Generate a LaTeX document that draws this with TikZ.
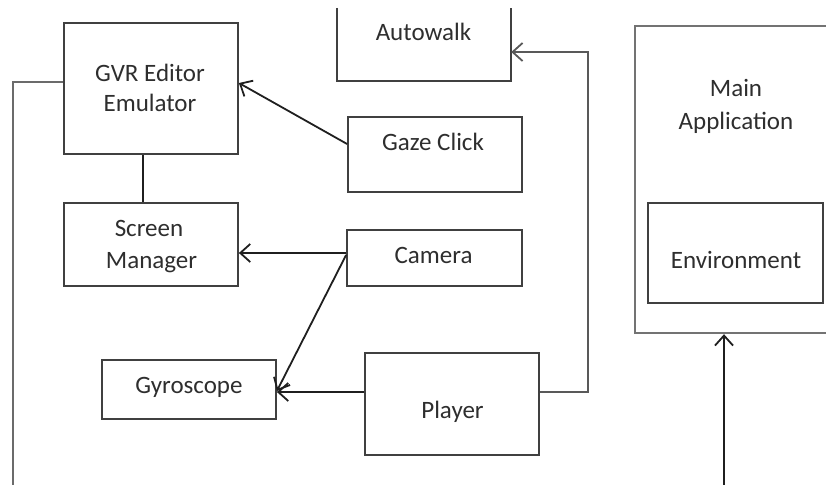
\documentclass[tikz,border=0pt]{standalone}
\usepackage{fontspec}
\setmainfont{Carlito}
\usetikzlibrary{arrows.meta}
\begin{document}
\begin{tikzpicture}[x=1pt,y=-1pt,
  box/.style={draw=black!75,line width=1.8pt,rectangle,inner sep=0pt},
  outerbox/.style={draw=black!55,line width=2.4pt,rectangle,inner sep=0pt},
  lbl/.style={anchor=base,inner sep=0pt,text=black!82,font=\fontsize{25}{30}\selectfont},
  link/.style={draw=black!88,line width=1.8pt},
  feed/.style={draw=black!58,line width=2.2pt},
  arr/.style={link,-{Straight Barb[length=10pt,width=18pt,line width=1.8pt]}}]
\useasboundingbox (0,0) rectangle (826,484);
\clip (0,0) rectangle (826,484);

% boxes
\node[box,minimum width=174pt,minimum height=131pt] (gvr) at (151,88.5) {};
\node[box,minimum width=174pt,minimum height=83pt] (scr) at (151,244.5) {};
\node[rectangle,inner sep=0pt,minimum width=174pt,minimum height=73pt] (aw) at (424,44.5) {};
\draw[box] (aw.north west) -- (aw.south west) -- (aw.south east) -- (aw.north east);
\node[box,minimum width=174pt,minimum height=75pt] (gaze) at (435,154.5) {};
\node[box,minimum width=175pt,minimum height=56pt] (cam) at (434.5,258) {};
\node[box,minimum width=174pt,minimum height=59pt] (gyro) at (189,389.5) {};
\node[box,minimum width=174pt,minimum height=102pt] (player) at (452,404) {};
\node[outerbox,minimum width=201pt,minimum height=307pt] (main) at (735.5,179.5) {};
\node[box,minimum width=175pt,minimum height=100pt] (env) at (735.5,253) {};

% labels
\node[lbl] at (150,82) {GVR Editor};
\node[lbl] at (150,112) {Emulator};
\node[lbl] at (149,236) {Screen};
\node[lbl] at (151.5,268) {Manager};
\node[lbl] at (423.5,41) {Autowalk};
\node[lbl] at (433,150) {Gaze Click};
\node[lbl] at (433.5,263) {Camera};
\node[lbl] at (189,393) {Gyroscope};
\node[lbl] at (452.5,418) {Player};
\node[lbl] at (736,97) {Main};
\node[lbl] at (736,129) {Application};
\node[lbl] at (736,268) {Environment};

% free ends at the lower edge
\coordinate (feedend) at (13,492);
\coordinate (appin) at (724,492);

% connectors
\draw[feed] ([yshift=6.5pt]gvr.west) -- ([yshift=6.5pt]gvr.west -| feedend) -- (feedend);
\draw[link] ([xshift=-8pt]gvr.south) -- ([xshift=-8pt]scr.north);
\draw[arr] ([yshift=10.5pt]gaze.west) -- ([yshift=5.5pt]gvr.east);
\draw[arr] ([yshift=5pt]cam.west) -- ([yshift=5pt]cam.west -| scr.east);
\draw[arr] ([yshift=3pt]cam.west) -- ([yshift=-1.5pt]gyro.east);
\draw[arr] ([yshift=12pt]player.west) -- ([yshift=12pt]player.west -| gyro.east);
\draw[draw=black!65,line width=2pt,-{Straight Barb[length=10pt,width=18pt,line width=1.8pt]}]
  ([yshift=12pt]player.east) -- ++(48,0) |- ([yshift=-7.5pt]aw.east);
\draw[arr] (appin) -- (appin |- main.south);
\end{tikzpicture}
\end{document}
